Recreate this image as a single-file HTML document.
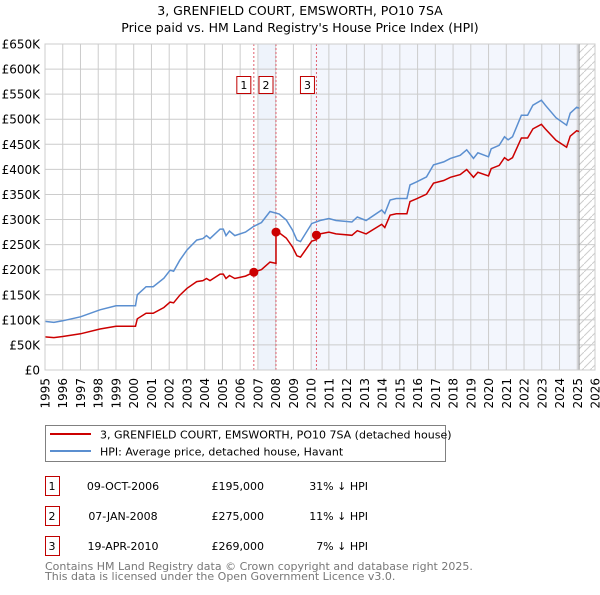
<!DOCTYPE html>
<html><head><meta charset="utf-8"><style>
body{margin:0;background:#fff;font-family:"Liberation Sans","DejaVu Sans",sans-serif;}
</style></head><body>
<svg id="chart" width="600" height="590" viewBox="0 0 600 590" xmlns="http://www.w3.org/2000/svg" font-family="DejaVu Sans, Liberation Sans, sans-serif">
<text x="300" y="15" text-anchor="middle" font-size="12.5" fill="#000">3, GRENFIELD COURT, EMSWORTH, PO10 7SA</text>
<text x="300" y="32" text-anchor="middle" font-size="12.5" fill="#000">Price paid vs. HM Land Registry's House Price Index (HPI)</text>
<g id="plot"></g>
<g>
<rect x="45.5" y="425.5" width="400" height="36" fill="#fff" stroke="#808080"/>
<line x1="50" y1="434" x2="91" y2="434" stroke="#cc0000" stroke-width="2"/>
<text x="100" y="438.5" font-size="11" fill="#000">3, GRENFIELD COURT, EMSWORTH, PO10 7SA (detached house)</text>
<line x1="50" y1="451" x2="91" y2="451" stroke="#5b8fd0" stroke-width="2"/>
<text x="100" y="455.5" font-size="11" fill="#000">HPI: Average price, detached house, Havant</text>
</g>
<g id="table" font-size="11" fill="#000"></g>
<text x="45" y="570" font-size="11" fill="#777">Contains HM Land Registry data © Crown copyright and database right 2025.</text>
<text x="45" y="580" font-size="11" fill="#777">This data is licensed under the Open Government Licence v3.0.</text>
</svg>
<script>
const hpiYears=[1995,1995.5,1996,1997,1998.1,1999,2000.1,2000.2,2000.7,2001.1,2001.7,2002.05,2002.25,2002.6,2003,2003.55,2003.9,2004.1,2004.3,2004.87,2005.05,2005.2,2005.4,2005.7,2006.3,2006.74,2007.2,2007.68,2008.2,2008.6,2008.95,2009.2,2009.4,2010.03,2010.5,2011,2011.4,2012.3,2012.6,2013.1,2013.98,2014.15,2014.45,2014.8,2015.4,2015.57,2015.94,2016.5,2016.9,2017.47,2017.85,2018.4,2018.77,2019.15,2019.4,2020,2020.15,2020.6,2020.9,2021.1,2021.35,2021.85,2022.2,2022.5,2022.98,2023.2,2023.8,2024.4,2024.6,2024.97,2025.1];
const hpiValues=[97,95,98,106,120,128,128,150,166,166,183,199,197,219,239,259,262,268,262,281,281,268,277,268,275,286,294,316,311,299,279,259,256,292,298,302,298,295,305,298,319,312,339,342,342,369,375,385,409,415,422,428,439,422,433,425,441,448,465,459,465,508,508,528,538,528,503,488,512,524,522];
const saleYears=[2006.77,2008.02,2010.3];
const salePrices=[195,275,269];
const saleLabels=["1","2","3"];
const saleDates=["09-OCT-2006","07-JAN-2008","19-APR-2010"];
const salePriceText=["£195,000","£275,000","£269,000"];
const saleDiffText=["31% ↓ HPI","11% ↓ HPI","7% ↓ HPI"];
const yTicks=[0,50,100,150,200,250,300,350,400,450,500,550,600,650];
const xTicks=[1995,1996,1997,1998,1999,2000,2001,2002,2003,2004,2005,2006,2007,2008,2009,2010,2011,2012,2013,2014,2015,2016,2017,2018,2019,2020,2021,2022,2023,2024,2025,2026];

const X0=45,X1=595,Y0=370,Y1=44,YMIN=1995,YMAX=2026;
const xs=y=>X0+(y-YMIN)/(YMAX-YMIN)*(X1-X0);
const ys=v=>Y0-v/650*(Y0-Y1);
const NS="http://www.w3.org/2000/svg";
const plot=document.getElementById('plot');
function mk(tag,attrs,parent){const e=document.createElementNS(NS,tag);for(const k in attrs)e.setAttribute(k,attrs[k]);(parent||plot).appendChild(e);return e;}
function hpiAt(y){for(let i=0;i<hpiYears.length-1;i++){if(y>=hpiYears[i]&&y<=hpiYears[i+1]){const t=(y-hpiYears[i])/(hpiYears[i+1]-hpiYears[i]);return hpiValues[i]+t*(hpiValues[i+1]-hpiValues[i]);}}return y<hpiYears[0]?hpiValues[0]:hpiValues[hpiValues.length-1];}

const sh1=mk('rect',{x:xs(Math.ceil(saleYears[0])),y:Y1,width:xs(saleYears[1])-xs(Math.ceil(saleYears[0])),height:Y0-Y1,fill:'#eef3fb'});


const lastYear=hpiYears[hpiYears.length-1];
const sh2=mk('rect',{x:xs(Math.floor(saleYears[2])),y:Y1,width:xs(lastYear)-xs(Math.floor(saleYears[2])),height:Y0-Y1,fill:'#f3f6fd'});


const defs=mk('defs',{});
const pat=mk('pattern',{id:'hatch',patternUnits:'userSpaceOnUse',width:8,height:8},defs);
mk('path',{d:'M0,8 L8,0',stroke:'#ccc','stroke-width':1},pat);
const hat=mk('rect',{x:xs(lastYear),y:Y1,width:X1-xs(lastYear),height:Y0-Y1,fill:'url(#hatch)'});



xTicks.forEach(t=>{
 const l=mk('line',{x1:xs(t),x2:xs(t),y1:Y1,y2:Y0,stroke:'#cccccc','stroke-width':1});
 
 
 const tx=mk('text',{x:0,y:0,transform:`translate(${xs(t)+4.5},378) rotate(-90)`,'text-anchor':'end','font-size':12,fill:'#000'});
 tx.textContent=t;
 
 
});
yTicks.forEach(t=>{
 const l=mk('line',{x1:X0,x2:X1,y1:ys(t),y2:ys(t),stroke:'#cccccc','stroke-width':1});
 
 
 const tx=mk('text',{x:40,y:ys(t)+4.5,'text-anchor':'end','font-size':12,fill:'#000'});
 tx.textContent=t===0?'£0':'£'+t+'K';
 
 
});
const endLine=mk('line',{x1:xs(lastYear),x2:xs(lastYear),y1:Y1,y2:Y0,stroke:'#888','stroke-width':1});



saleYears.forEach((sy,i)=>{
 const l=mk('line',{x1:xs(sy),x2:xs(sy),y1:Y1,y2:Y0,stroke:'#e06070','stroke-width':1,'stroke-dasharray':'2,2'});
 
 
 const bx=xs(sy)-(i===2?9:10);
 const r=mk('rect',{x:bx-7,y:76.5,width:14,height:17,fill:'#fff',stroke:'#c00000'});
 
 
 const t=mk('text',{x:bx,y:89,'text-anchor':'middle','font-size':11,fill:'#000'});
 t.textContent=saleLabels[i];
 
 
});

let d='';
hpiYears.forEach((y,i)=>{d+=(i?'L':'M')+xs(y).toFixed(1)+','+ys(hpiValues[i]).toFixed(1);});
const hp=mk('path',{d,fill:'none',stroke:'#5b8fd0','stroke-width':1.5});



const pts=[];
const allYears=[...new Set([...hpiYears,...saleYears])].sort((a,b)=>a-b);
allYears.forEach(y=>{
 let idx=-1;for(let i=0;i<saleYears.length;i++) if(y>=saleYears[i]) idx=i;
 const base=idx<0?0:idx;
 const ratio=salePrices[base]/hpiAt(saleYears[base]);
 if(idx>=0&&saleYears.includes(y)&&y>saleYears[0]){
   const prev=idx-1;const pr=salePrices[prev]/hpiAt(saleYears[prev]);
   pts.push([y,hpiAt(y)*pr]);
 }
 pts.push([y,hpiAt(y)*ratio]);
});
let d2='';pts.forEach((p,i)=>{d2+=(i?'L':'M')+xs(p[0]).toFixed(1)+','+ys(p[1]).toFixed(1);});
const pp=mk('path',{d:d2,fill:'none',stroke:'#cc0000','stroke-width':1.5});


saleYears.forEach((sy,i)=>{
 const c=mk('circle',{cx:xs(sy),cy:ys(salePrices[i]),r:4.5,fill:'#cc0000'});
 
 
});
const fr=mk('rect',{x:X0,y:Y1,width:X1-X0,height:Y0-Y1,fill:'none',stroke:'#cccccc'});



const tb=document.getElementById('table');
saleLabels.forEach((lab,i)=>{
 const y0=476+i*30;
 const r=mk('rect',{x:45.5,y:y0+0.5,width:14,height:19,fill:'#fff',stroke:'#c00000'},tb);
 
 
 const vals=[[52,lab,'middle'],[123,saleDates[i],'middle'],[264,salePriceText[i],'end'],[368,saleDiffText[i],'end']];
 vals.forEach((v,j)=>{
  const t=mk('text',{x:v[0],y:y0+14,'text-anchor':v[2],'font-size':11,fill:'#000'},tb);
  t.textContent=v[1];
  
  
 });
});
</script>
</body></html>
